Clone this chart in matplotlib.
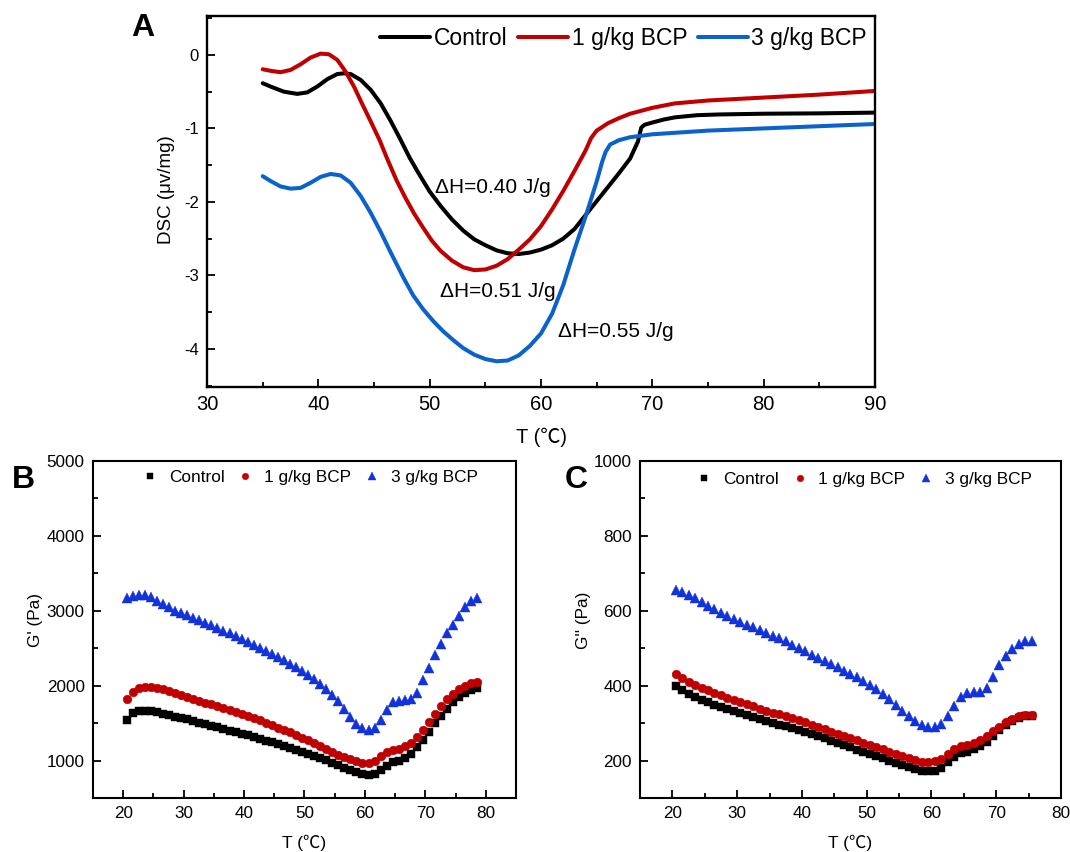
import numpy as np
import matplotlib
matplotlib.use("Agg")
import matplotlib.pyplot as plt
from matplotlib.ticker import MultipleLocator

plt.rcParams['font.family'] = ['Liberation Sans', 'Noto Sans CJK SC', 'DejaVu Sans']
plt.rcParams['axes.unicode_minus'] = False

# %% Data: DSC curves (panel A)
t_ctrl = [35, 35.7, 36.9, 38.1, 39, 39.9, 40.8, 41.7, 42.3, 42.9, 43.8, 44.7, 45.6, 46.5, 47.3,
          48.2, 49, 50, 51, 52, 53, 54, 55, 56, 57, 58, 59, 60, 61, 62, 63, 64, 65, 66, 67, 68,
          68.7, 69, 69.3, 70, 71, 72, 74, 76, 80, 85, 90]
dsc_ctrl = [-0.385, -0.43, -0.50, -0.53, -0.51, -0.43, -0.33, -0.26, -0.25, -0.26, -0.34, -0.475,
            -0.66, -0.90, -1.13, -1.40, -1.61, -1.86, -2.06, -2.24, -2.39, -2.51, -2.59, -2.66,
            -2.70, -2.71, -2.69, -2.65, -2.59, -2.50, -2.37, -2.18, -1.99, -1.80, -1.61, -1.41,
            -1.18, -0.99, -0.95, -0.92, -0.88, -0.85, -0.82, -0.81, -0.80, -0.795, -0.785]

t_1g = [35, 35.75, 36.6, 37.5, 38.4, 39.3, 40.2, 40.95, 41.7, 42.4, 43.2, 43.9, 44.7, 45.5, 46.2,
        47, 47.8, 48.6, 49.4, 50.2, 51, 52, 53, 54, 55, 56, 57, 58, 59, 60, 61, 62, 63, 64,
        64.5, 65, 66, 67, 68, 70, 72, 75, 80, 85, 90]
dsc_1g = [-0.195, -0.217, -0.235, -0.204, -0.127, -0.036, 0.018, 0.009, -0.068, -0.217, -0.43,
          -0.656, -0.905, -1.16, -1.42, -1.70, -1.94, -2.16, -2.35, -2.53, -2.67, -2.80, -2.89,
          -2.93, -2.92, -2.87, -2.78, -2.65, -2.51, -2.33, -2.10, -1.85, -1.58, -1.30, -1.13,
          -1.03, -0.93, -0.86, -0.80, -0.72, -0.66, -0.62, -0.58, -0.54, -0.49]

t_3g = [35, 35.75, 36.6, 37.5, 38.4, 39.3, 40.2, 41.1, 42, 42.9, 43.8, 44.7, 45.6, 46.5, 47.6,
        48.5, 49.4, 50.3, 51.2, 52.1, 53, 54, 55, 56, 57, 58, 59, 60, 61, 62, 63, 64, 65, 65.5,
        65.8, 66.2, 67, 68, 70, 75, 80, 85, 90]
dsc_3g = [-1.65, -1.72, -1.79, -1.82, -1.81, -1.74, -1.66, -1.62, -1.64, -1.74, -1.92, -2.15,
          -2.41, -2.69, -3.02, -3.27, -3.46, -3.62, -3.76, -3.88, -3.99, -4.08, -4.14, -4.17,
          -4.16, -4.09, -3.96, -3.79, -3.52, -3.13, -2.65, -2.20, -1.72, -1.45, -1.32, -1.22,
          -1.16, -1.12, -1.08, -1.03, -1.00, -0.97, -0.94]

dh_labels = ["\u0394H=0.40 J/g", "\u0394H=0.51 J/g", "\u0394H=0.55 J/g"]
dh_x = [50.5, 50.9, 61.5]
dh_y = [-1.81, -3.22, -3.77]

# %% Data: storage modulus G' (panel B)
t_b = [20.6, 21.6, 22.6, 23.6, 24.6, 25.6, 26.6, 27.6, 28.6, 29.6, 30.6, 31.6, 32.6, 33.6, 34.6,
       35.6, 36.6, 37.6, 38.6, 39.6, 40.6, 41.6, 42.6, 43.6, 44.6, 45.6, 46.6, 47.6, 48.6, 49.6,
       50.6, 51.6, 52.6, 53.6, 54.6, 55.6, 56.6, 57.6, 58.6, 59.6, 60.6, 61.6, 62.6, 63.6, 64.6,
       65.6, 66.6, 67.6, 68.6, 69.6, 70.6, 71.6, 72.6, 73.6, 74.6, 75.6, 76.6, 77.6, 78.6]
gp_ctrl = [1546, 1640, 1660, 1668, 1662, 1645, 1625, 1605, 1585, 1568, 1553, 1530, 1508, 1487,
           1465, 1444, 1422, 1400, 1379, 1357, 1335, 1313, 1290, 1266, 1242, 1218, 1194, 1170,
           1144, 1117, 1090, 1062, 1032, 1003, 970, 938, 905, 872, 843, 820, 813, 825, 870, 930,
           975, 1000, 1030, 1090, 1175, 1275, 1380, 1500, 1600, 1695, 1780, 1850, 1900, 1945, 1975]
gp_1g = [1826, 1920, 1965, 1985, 1988, 1975, 1950, 1925, 1900, 1875, 1850, 1825, 1800, 1775,
         1750, 1727, 1704, 1678, 1650, 1622, 1595, 1566, 1535, 1503, 1472, 1440, 1408, 1375,
         1340, 1305, 1270, 1233, 1195, 1155, 1115, 1077, 1042, 1015, 990, 972, 972, 1000, 1065,
         1110, 1138, 1160, 1190, 1240, 1320, 1410, 1515, 1620, 1730, 1820, 1890, 1950, 1995,
         2030, 2055]
gp_3g = [3176, 3195, 3210, 3215, 3180, 3135, 3095, 3050, 3000, 2968, 2938, 2905, 2873, 2842,
         2808, 2772, 2735, 2700, 2663, 2626, 2587, 2547, 2507, 2467, 2428, 2385, 2340, 2295,
         2248, 2198, 2146, 2085, 2020, 1950, 1870, 1790, 1690, 1585, 1490, 1430, 1413, 1440,
         1540, 1670, 1785, 1800, 1812, 1825, 1900, 2075, 2234, 2410, 2560, 2700, 2815, 2930,
         3045, 3130, 3175]

# %% Data: loss modulus G'' (panel C)
t_c = [20.5, 21.5, 22.5, 23.5, 24.5, 25.5, 26.5, 27.5, 28.5, 29.5, 30.5, 31.5, 32.5, 33.5, 34.5,
       35.5, 36.5, 37.5, 38.5, 39.5, 40.5, 41.5, 42.5, 43.5, 44.5, 45.5, 46.5, 47.5, 48.5, 49.5,
       50.5, 51.5, 52.5, 53.5, 54.5, 55.5, 56.5, 57.5, 58.5, 59.5, 60.5, 61.5, 62.5, 63.5, 64.5,
       65.5, 66.5, 67.5, 68.5, 69.5, 70.5, 71.5, 72.5, 73.5, 74.5, 75.5]
gpp_ctrl = [398, 388, 379, 370, 363, 356, 349, 343, 337, 331, 326, 321, 316, 311, 306, 301, 296,
            291, 286, 281, 276, 270, 265, 259, 253, 247, 241, 235, 229, 223, 218, 212, 206, 200,
            194, 188, 182, 177, 173, 172, 173, 180, 195, 210, 219, 224, 230, 238, 250, 265, 281,
            294, 305, 314, 318, 319]
gpp_1g = [430, 420, 411, 403, 395, 388, 381, 374, 367, 361, 356, 350, 345, 339, 333, 328, 323,
          318, 313, 307, 302, 296, 290, 284, 277, 272, 266, 260, 254, 248, 242, 236, 230, 224,
          218, 212, 206, 201, 197, 196, 198, 205, 217, 230, 238, 242, 248, 256, 266, 279, 290,
          302, 312, 320, 322, 321]
gpp_3g = [656, 649, 642, 633, 624, 614, 604, 595, 586, 578, 570, 563, 556, 549, 541, 533, 526,
          518, 509, 500, 492, 483, 475, 466, 457, 449, 440, 431, 422, 412, 401, 390, 377, 364,
          348, 331, 318, 306, 296, 290, 289, 298, 318, 345, 370, 381, 383, 384, 394, 424, 455,
          480, 498, 512, 520, 519]

names = ["Control", "1 g/kg BCP", "3 g/kg BCP"]
line_colors = ["black", "#c00000", "#0a62cc"]
mark_colors = ["black", "#c00000", "#1232dc"]
markers = ["s", "o", "^"]
mark_sizes = [5.8, 6.3, 7.2]

# %% Figure
fig = plt.figure(figsize=(10.7, 8.52), dpi=100)
ax_a = fig.add_axes([0.1935, 0.5458, 0.6243, 0.4354])
ax_b = fig.add_axes([0.0869, 0.0634, 0.3953, 0.3955])
ax_c = fig.add_axes([0.5981, 0.0634, 0.3935, 0.3955])

# Panel A
for t, d, c, n in zip([t_ctrl, t_1g, t_3g], [dsc_ctrl, dsc_1g, dsc_3g], line_colors, names):
    ax_a.plot(t, d, color=c, lw=2.9, label=n, solid_capstyle='round', solid_joinstyle='round')
for lab, x, y in zip(dh_labels, dh_x, dh_y):
    ax_a.text(x, y, lab, fontsize=15, ha='left', va='center')
ax_a.set_xlim(30, 90)
ax_a.set_ylim(-4.52, 0.53)
ax_a.xaxis.set_major_locator(MultipleLocator(10))
ax_a.xaxis.set_minor_locator(MultipleLocator(5))
ax_a.yaxis.set_major_locator(MultipleLocator(1))
ax_a.yaxis.set_minor_locator(MultipleLocator(0.5))
ax_a.tick_params(axis='x', which='major', labelsize=14.5, pad=6)
ax_a.tick_params(axis='y', which='major', labelsize=12, pad=6)
ax_a.set_xlabel("T (\u2103)", fontsize=14.5, va='center')
ax_a.xaxis.set_label_coords(0.5, -0.135)
ax_a.set_ylabel("DSC (\u03bcv/mg)", fontsize=13.5, va='center')
ax_a.yaxis.set_label_coords(-0.061, 0.531)
ax_a.legend(loc='center right', bbox_to_anchor=(0.988, 0.94), ncol=3, frameon=False,
            fontsize=16.5, handlelength=2.2, handletextpad=0.15, columnspacing=0.45,
            borderpad=0, borderaxespad=0)

# Panels B and C
for ax, t, series in [(ax_b, t_b, [gp_ctrl, gp_1g, gp_3g]),
                      (ax_c, t_c, [gpp_ctrl, gpp_1g, gpp_3g])]:
    for s, c, m, ms, n in zip(series, mark_colors, markers, mark_sizes, names):
        ax.plot(t, s, ls='none', marker=m, ms=ms, color=c, mec=c, mew=0.3, label=n)
    ax.xaxis.set_major_locator(MultipleLocator(10))
    ax.xaxis.set_minor_locator(MultipleLocator(5))
    ax.tick_params(axis='both', which='major', labelsize=12.3, pad=6)
    ax.set_xlabel("T (\u2103)", fontsize=12.5, va='center')
    ax.xaxis.set_label_coords(0.5, -0.134)

ax_b.set_xlim(15, 85)
ax_b.set_ylim(500, 5000)
ax_b.yaxis.set_major_locator(MultipleLocator(1000))
ax_b.yaxis.set_minor_locator(MultipleLocator(500))
ax_b.set_ylabel("G' (Pa)", fontsize=12.3, va='center')
ax_b.yaxis.set_label_coords(-0.135, 0.528)
ax_b.legend(loc='center right', bbox_to_anchor=(0.91, 0.95), ncol=3, frameon=False,
            fontsize=12.4, handlelength=1.0, handletextpad=0.6, columnspacing=0.7,
            borderpad=0, borderaxespad=0, markerscale=0.75)

ax_c.set_xlim(15, 80)
ax_c.set_ylim(100, 1000)
ax_c.yaxis.set_major_locator(MultipleLocator(200))
ax_c.yaxis.set_minor_locator(MultipleLocator(100))
ax_c.set_ylabel("G'' (Pa)", fontsize=12.3, va='center')
ax_c.yaxis.set_label_coords(-0.135, 0.528)
ax_c.legend(loc='center right', bbox_to_anchor=(0.931, 0.944), ncol=3, frameon=False,
            fontsize=12.4, handlelength=1.0, handletextpad=0.6, columnspacing=0.7,
            borderpad=0, borderaxespad=0, markerscale=0.75)

for ax, lw in [(ax_a, 1.7), (ax_b, 1.5), (ax_c, 1.5)]:
    for sp in ax.spines.values():
        sp.set_linewidth(lw)
    ax.tick_params(which='both', direction='in', top=False, right=False, width=1.3)
    ax.tick_params(which='major', length=6)
    ax.tick_params(which='minor', length=3.5)

# Panel letters
fig.text(143 / 1070, 1 - 28 / 852, "A", fontsize=23, fontweight='bold', ha='center', va='center')
fig.text(23 / 1070, 1 - 480 / 852, "B", fontsize=23, fontweight='bold', ha='center', va='center')
fig.text(576 / 1070, 1 - 480 / 852, "C", fontsize=23, fontweight='bold', ha='center', va='center')

fig.savefig("out.png", dpi=100)
